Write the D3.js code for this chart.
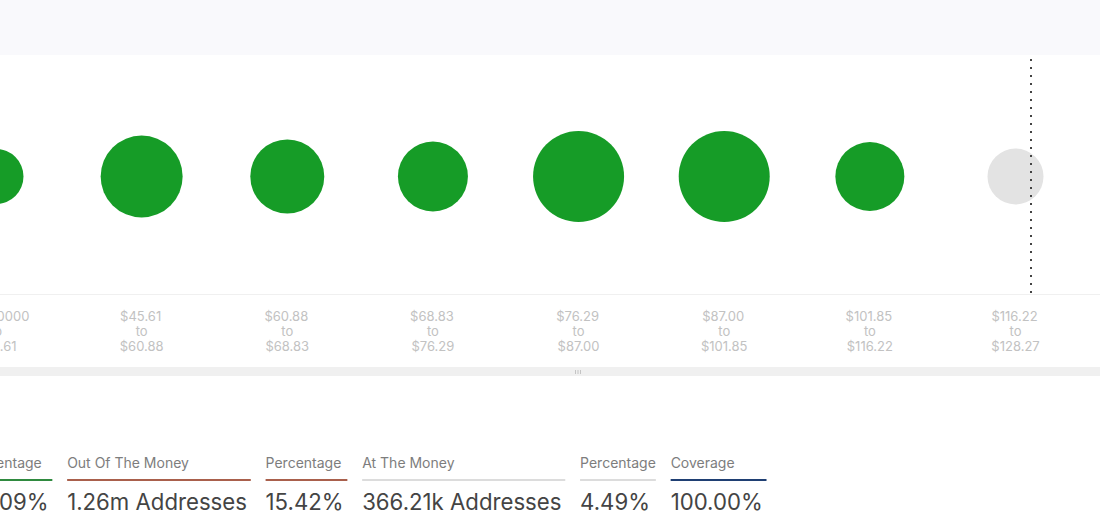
<!DOCTYPE html>
<html>
<head>
<meta charset="utf-8">
<script src="https://cdn.jsdelivr.net/npm/d3@7"></script>
<style>
  html, body { margin: 0; padding: 0; background: #fff; overflow: hidden; }
  svg { display: block; font-family: Inter, "Noto Sans", sans-serif; }
</style>
</head>
<body>
<svg id="chart" width="1100" height="532"></svg>
<script>
// price buckets
var rangeFrom = ['$0.000000', '$45.61', '$60.88', '$68.83', '$76.29', '$87.00', '$101.85', '$116.22'];
var rangeTo = ['$45.61', '$60.88', '$68.83', '$76.29', '$87.00', '$101.85', '$116.22', '$128.27'];
// addresses per bucket, in thousands
var addresses = [353, 785, 639, 572, 967, 967, 556, 366.21];
var bucketState = ['in', 'in', 'in', 'in', 'in', 'in', 'in', 'at'];

// summary table under the chart
var statLabels = ['Percentage', 'Out Of The Money', 'Percentage', 'At The Money', 'Percentage', 'Coverage'];
var statValues = ['80.09%', '1.26m Addresses', '15.42%', '366.21k Addresses', '4.49%', '100.00%'];
var statColors = ['#2f8a3f', '#a9604c', '#a9604c', '#dcdcdc', '#dcdcdc', '#1f3f73'];

var svg = d3.select('#chart');

var x = d3.scalePoint().domain(d3.range(rangeFrom.length)).range([-4, 1015.5]);
var r = d3.scaleSqrt().domain([0, 366.21]).range([0, 28]);
var fill = d3.scaleOrdinal().domain(['in', 'at']).range(['#169c27', '#e3e3e3']);

// top band
svg.append('rect').attr('width', 1100).attr('height', 55).attr('fill', '#f9f9fc');

svg.append('line')
  .attr('x1', 0).attr('x2', 1100).attr('y1', 294.5).attr('y2', 294.5)
  .attr('stroke', '#f0f0f0');

svg.selectAll('circle.bubble')
  .data(addresses)
  .enter()
  .append('circle')
  .attr('class', 'bubble')
  .attr('cx', function(d, i) { return x(i); })
  .attr('cy', 176.5)
  .attr('r', function(d) { return r(d); })
  .attr('fill', function(d, i) { return fill(bucketState[i]); });

// current price marker
svg.append('line')
  .attr('x1', 1031).attr('x2', 1031).attr('y1', 59).attr('y2', 294)
  .attr('stroke', '#444')
  .attr('stroke-width', 2)
  .attr('stroke-dasharray', '2 6');

var ticks = svg.selectAll('text.tick')
  .data(rangeFrom)
  .enter()
  .append('text')
  .attr('class', 'tick')
  .attr('text-anchor', 'middle')
  .attr('font-size', 13)
  .attr('fill', '#c2c2c2');

ticks.append('tspan')
  .attr('x', function(d, i) { return x(i) - 1; })
  .attr('y', 321)
  .text(function(d) { return d; });
ticks.append('tspan')
  .attr('x', function(d, i) { return x(i); })
  .attr('y', 336)
  .text('to');
ticks.append('tspan')
  .attr('x', function(d, i) { return x(i); })
  .attr('y', 351)
  .text(function(d, i) { return rangeTo[i]; });

// resize bar with grip
svg.append('rect').attr('y', 367).attr('width', 1100).attr('height', 9).attr('fill', '#f0f0f0');
svg.selectAll('line.grip')
  .data(d3.range(3))
  .enter()
  .append('line')
  .attr('class', 'grip')
  .attr('x1', function(d) { return 575.5 + d * 2.5; })
  .attr('x2', function(d) { return 575.5 + d * 2.5; })
  .attr('y1', 370).attr('y2', 374)
  .attr('stroke', '#c4c4c4');

// summary columns, each as wide as its text
var cursor = -34;
statLabels.forEach(function(label, i) {
  var g = svg.append('g').attr('transform', 'translate(' + cursor + ',0)');
  var head = g.append('text')
    .attr('y', 468)
    .attr('font-size', 14)
    .attr('fill', '#7d7d7d')
    .text(label);
  var val = g.append('text')
    .attr('y', 510)
    .attr('font-size', 22.2)
    .attr('fill', '#444')
    .text(statValues[i]);
  var w = Math.max(head.node().getComputedTextLength(), val.node().getComputedTextLength() + 3.8);
  g.append('line')
    .attr('x1', 0).attr('x2', w).attr('y1', 480).attr('y2', 480)
    .attr('stroke', statColors[i])
    .attr('stroke-width', 2);
  cursor += w + 14.8;
});
</script>
</body>
</html>
